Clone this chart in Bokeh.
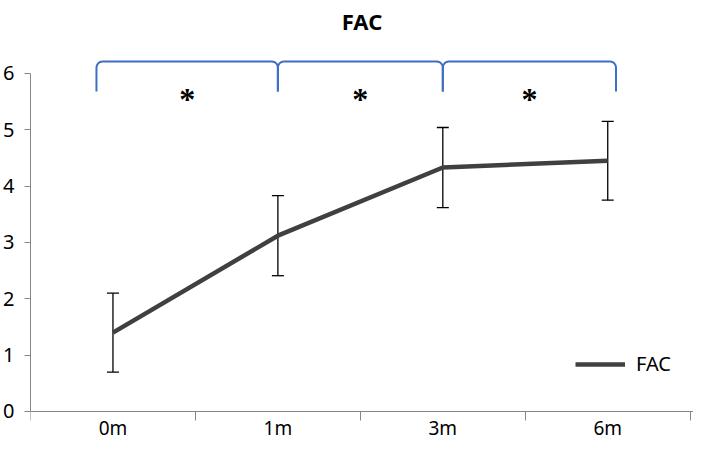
import numpy as np
from bokeh.plotting import figure
from bokeh.models import (Range1d, FixedTicker, Whisker, TeeHead, ColumnDataSource,
                          Legend, LegendItem)
from bokeh.embed import file_html
from bokeh.resources import INLINE

# ---- data ----
categories = ["0m", "1m", "3m", "6m"]
fac_mean = [1.40, 3.12, 4.33, 4.45]
fac_err = [0.70, 0.71, 0.71, 0.70]
y_ticks = [0, 1, 2, 3, 4, 5, 6]
brackets = [(0, 1), (1, 2), (2, 3)]   # category index pairs marked significant
sig_marks = ["*", "*", "*"]

FONT = "Noto Sans"
xc = [i + 0.5 for i in range(len(categories))]
upper = [m + e for m, e in zip(fac_mean, fac_err)]
lower = [m - e for m, e in zip(fac_mean, fac_err)]

p = figure(width=693, height=443, output_backend="svg", toolbar_location=None,
           x_range=Range1d(0, 4.02), y_range=Range1d(-0.568, 6.62),
           min_border_left=30, min_border_right=0, min_border_top=0, min_border_bottom=0)
p.outline_line_color = None
p.xgrid.visible = False
p.ygrid.visible = False
p.background_fill_color = "white"

p.title.text = "FAC"
p.title.align = "center"
p.title.text_font = FONT
p.title.text_font_size = "22px"
p.title.text_font_style = "bold"
p.title.text_color = "black"
p.title.standoff = 6

# axes
ax = p.xaxis[0]
ax.fixed_location = 0
ax.ticker = FixedTicker(ticks=xc, minor_ticks=list(range(len(categories) + 1)))
ax.major_label_overrides = {v: c for v, c in zip(xc, categories)}
ax.major_tick_line_color = None
ax.major_tick_out = 0
ax.major_tick_in = 0
ax.minor_tick_out = 9
ax.minor_tick_in = 0
ax.minor_tick_line_color = "#868686"
ax.axis_line_color = "#868686"
ax.major_label_text_font = FONT
ax.major_label_text_font_size = "19px"
ax.major_label_text_color = "black"
ax.major_label_standoff = -5

ay = p.yaxis[0]
ay.ticker = FixedTicker(ticks=y_ticks, minor_ticks=[])
ay.bounds = (0, 6)
ay.axis_line_color = "#868686"
ay.major_tick_line_color = "#868686"
ay.major_tick_out = 6
ay.major_tick_in = 0
ay.major_label_text_font = FONT
ay.major_label_text_font_size = "20px"
ay.major_label_text_color = "black"
ay.major_label_standoff = 10

# error bars
src = ColumnDataSource(dict(x=xc, upper=upper, lower=lower, mean=fac_mean))
w = Whisker(base="x", upper="upper", lower="lower", source=src,
            line_color="black", line_width=1.3,
            upper_head=TeeHead(size=12, line_color="black", line_width=1.3),
            lower_head=TeeHead(size=12, line_color="black", line_width=1.3))
p.add_layout(w)

# main line
r = p.line("x", "mean", source=src, line_color="#404040", line_width=4.5, line_join="round")

# significance brackets
ytop, ybot = 6.21, 5.68
dx, dy = 0.035, 0.11
last = len(categories) - 1
t = np.linspace(0, np.pi / 2, 10)
bx, by = [], []
mids = []
for a, b in brackets:
    x0 = xc[a] - 0.1 if a == 0 else xc[a]
    x1 = xc[b] + 0.05 if b == last else xc[b]
    xs = [x0] + list(x0 + dx - dx * np.cos(t)) + list(x1 - dx + dx * np.sin(t)) + [x1]
    ys = [ybot] + list(ytop - dy + dy * np.sin(t)) + list(ytop - dy + dy * np.cos(t)) + [ybot]
    bx.append(xs)
    by.append(ys)
    mids.append((x0 + x1) / 2)
p.multi_line(bx, by, line_color="#3D6FC4", line_width=2)

p.text(x=mids, y=[5.55] * len(mids), text=sig_marks, text_align="center",
       text_baseline="middle", text_font_size="32px", text_font_style="bold",
       text_color="black", text_font=FONT)

legend = Legend(items=[LegendItem(label="FAC", renderers=[r])], location=(545, 66),
                border_line_color=None, background_fill_alpha=0, padding=0, margin=0,
                glyph_width=50, glyph_height=20, label_standoff=11,
                label_text_font=FONT, label_text_font_size="20px", label_text_color="black")
p.add_layout(legend)

open("out.html", "w").write(file_html(p, INLINE))
